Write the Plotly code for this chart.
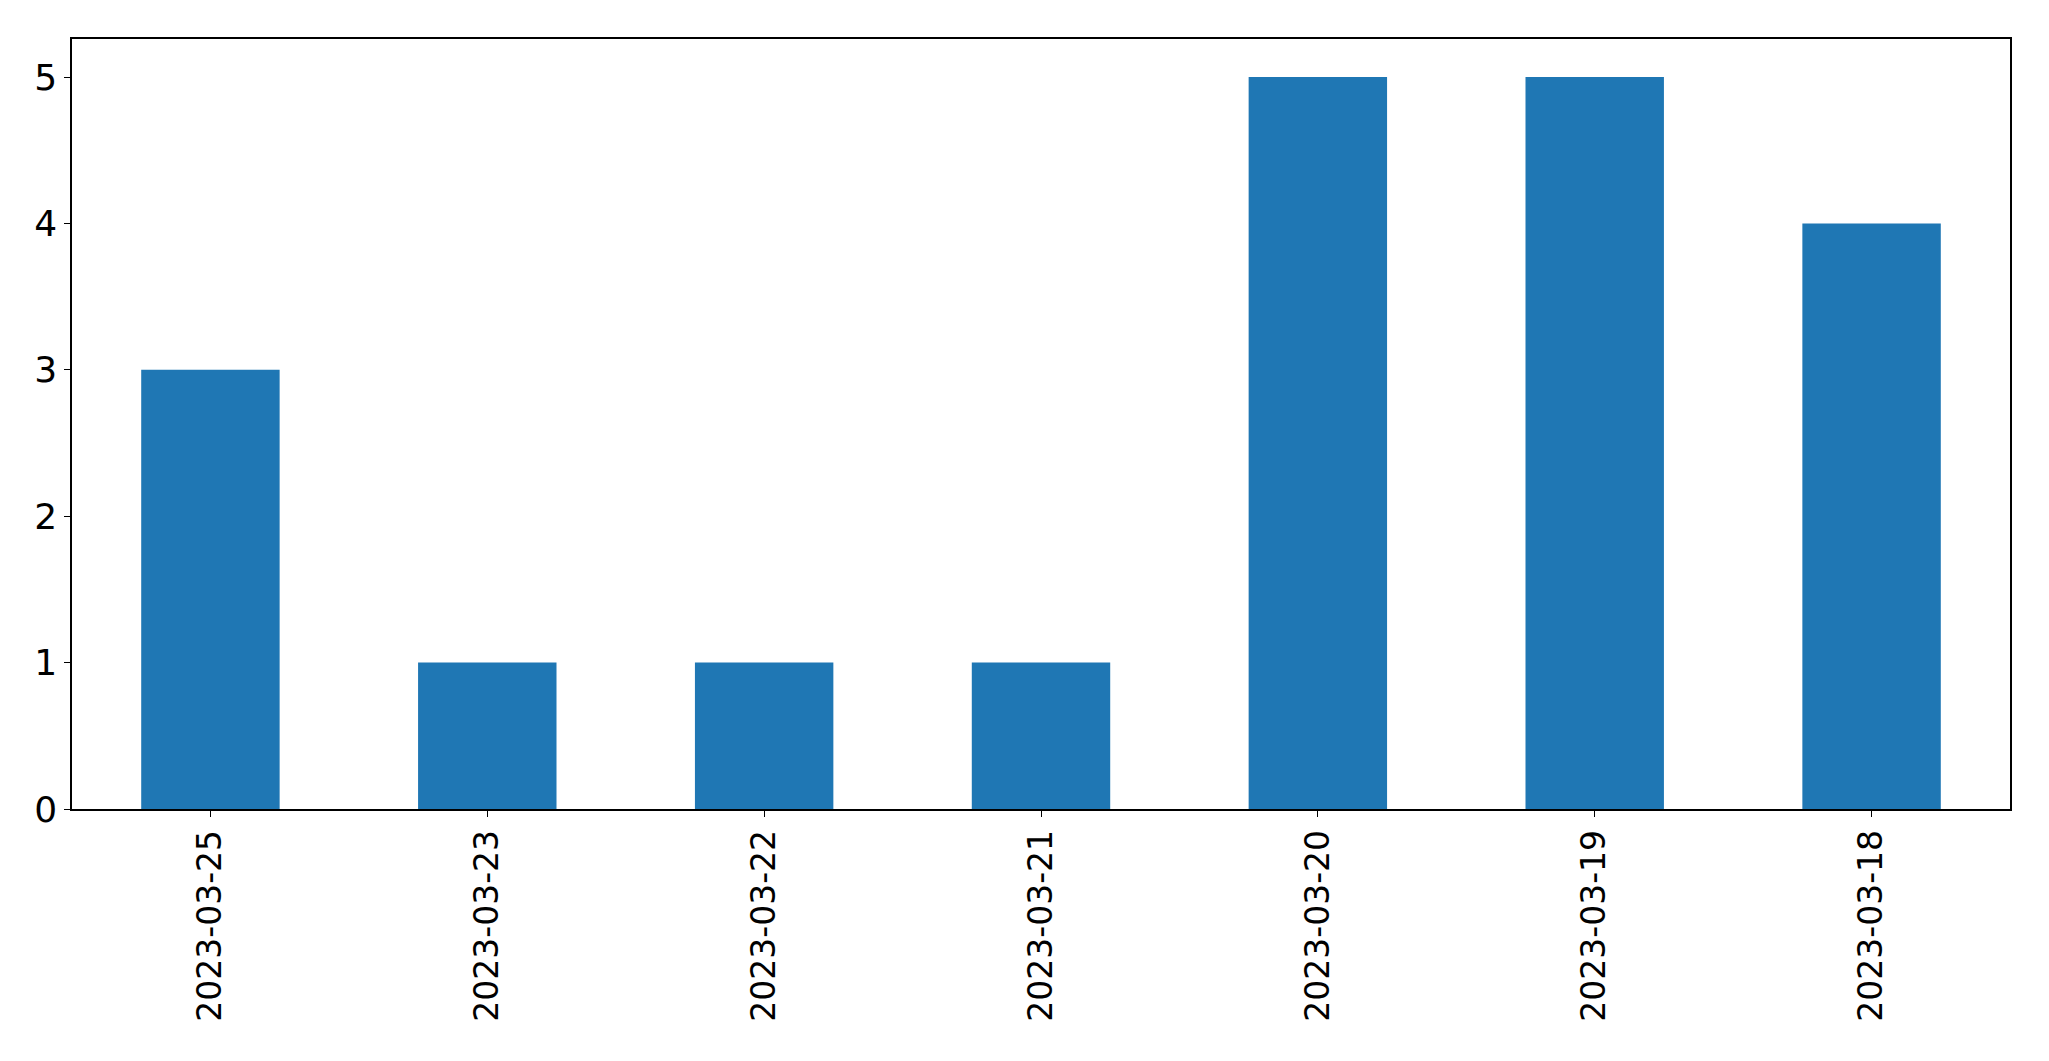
import plotly.graph_objects as go

dates = ["2023-03-25", "2023-03-23", "2023-03-22", "2023-03-21", "2023-03-20", "2023-03-19", "2023-03-18"]
counts = [3, 1, 1, 1, 5, 5, 4]
y_ticks = [0, 1, 2, 3, 4, 5]

fig = go.Figure(go.Bar(x=dates, y=counts, marker=dict(color="#1f77b4", line=dict(width=0))))

fig.update_layout(
    width=2049, height=1061,
    margin=dict(l=64, r=47, t=31, b=260, autoexpand=False),
    plot_bgcolor="white", paper_bgcolor="white",
    bargap=0.5,
    font=dict(family="DejaVu Sans", size=34, color="black"),
    showlegend=False,
)
fig.update_xaxes(
    type="category", range=[-0.5, 6.5], tickangle=-90, automargin=False,
    showline=True, linecolor="black", linewidth=1.5, mirror=True,
    ticks="outside", ticklen=6, tickcolor="black", showgrid=False,
    tickfont=dict(size=33),
)
fig.update_yaxes(
    range=[0, 5.26], tickvals=y_ticks, automargin=False,
    showline=True, linecolor="black", linewidth=1.5, mirror=True,
    ticks="outside", ticklen=6, tickcolor="black", showgrid=False, zeroline=False,
    tickfont=dict(size=36),
)

fig.write_html("out.html")
